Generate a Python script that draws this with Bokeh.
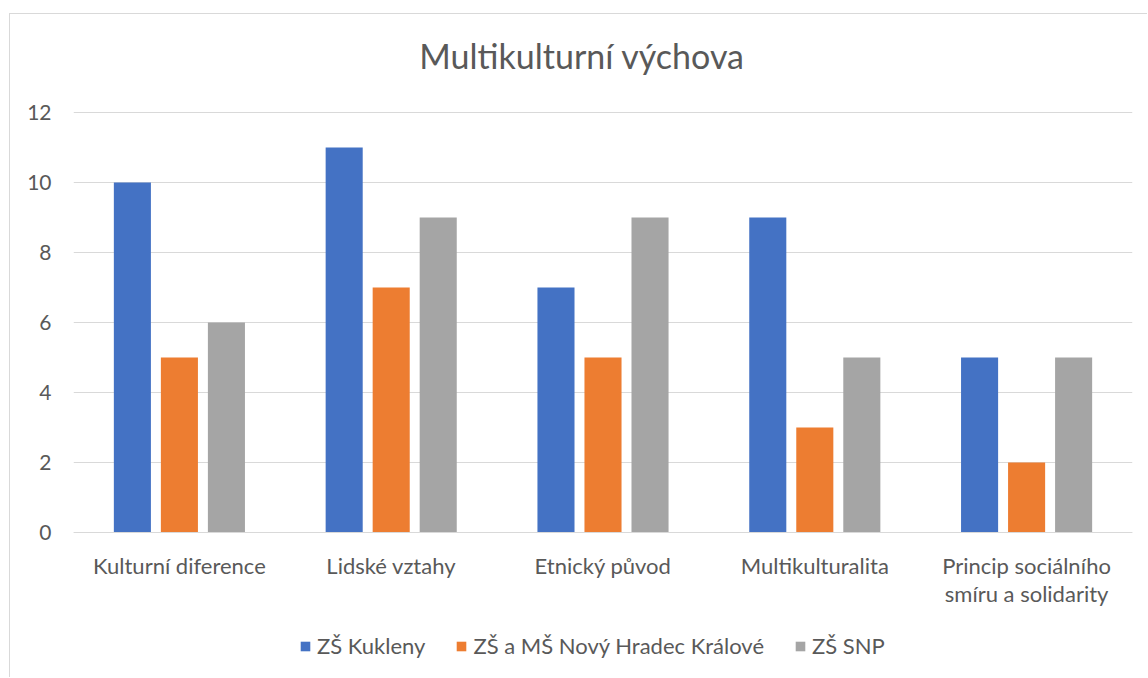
from bokeh.plotting import figure
from bokeh.models import FactorRange, Range1d, Legend, LegendItem, FixedTicker, Label
from bokeh.transform import dodge
from bokeh.embed import file_html
from bokeh.resources import INLINE

title_text = "Multikulturní výchova"
categories = ["Kulturní diference", "Lidské vztahy", "Etnický původ", "Multikulturalita",
              "Princip sociálního\nsmíru a solidarity"]
series_names = ["ZŠ Kukleny", "ZŠ a MŠ Nový Hradec Králové", "ZŠ SNP"]
kukleny = [10, 11, 7, 9, 5]
novy_hradec = [5, 7, 5, 3, 2]
snp = [6, 9, 9, 5, 5]
y_ticks = [0, 2, 4, 6, 8, 10, 12]

colors = ["#4472C4", "#ED7D31", "#A5A5A5"]
FONT = "Lato"
TXT = "#595959"

# the frame spans the whole chart: room above 12 holds the title,
# room below zero holds the category labels and the legend
p = figure(x_range=FactorRange(factors=categories, range_padding=0), y_range=Range1d(-4, 14.8),
           width=1138, height=664, output_backend="svg", toolbar_location=None,
           min_border_left=63, min_border_right=16, min_border_top=0, min_border_bottom=6,
           styles={"border-left": "1px solid #d9d9d9", "border-top": "1px solid #d9d9d9",
                   "margin-left": "9px", "margin-top": "13px"})

data = dict(cat=categories, a=kukleny, b=novy_hradec, c=snp)
renderers = []
for key, off, col in zip(["a", "b", "c"], [-0.222, 0.0, 0.222], colors):
    r = p.vbar(x=dodge("cat", off, range=p.x_range), top=key, width=0.175, source=data,
               fill_color=col, line_color=None)
    renderers.append(r)

p.add_layout(Label(x=2.401, y=13.63, text=title_text, text_align="center", text_baseline="middle",
                   text_font=FONT, text_font_size="34px", text_color=TXT))

p.xgrid.grid_line_color = None
p.yaxis.ticker = FixedTicker(ticks=y_ticks)
p.ygrid.ticker = FixedTicker(ticks=y_ticks)
p.ygrid.grid_line_color = "#D9D9D9"
p.ygrid.grid_line_width = 1
p.outline_line_color = None

for ax in (p.xaxis[0], p.yaxis[0]):
    ax.major_tick_line_color = None
    ax.minor_tick_line_color = None
    ax.major_label_text_font = FONT
    ax.major_label_text_color = TXT
p.yaxis.major_label_text_font_size = "21px"
p.xaxis.major_label_text_font_size = "22px"
p.xaxis.major_label_text_line_height = 1.05
p.yaxis.axis_line_color = None
p.yaxis.major_label_standoff = 16
p.xaxis.axis_line_color = "#D9D9D9"
p.xaxis.major_label_standoff = 13
p.xaxis.fixed_location = 0

legend = Legend(items=[LegendItem(label=n, renderers=[r]) for n, r in zip(series_names, renderers)],
                orientation="horizontal", location=(226, 13),
                border_line_color=None, background_fill_alpha=0,
                label_text_font=FONT, label_text_font_size="22px", label_text_color=TXT,
                glyph_width=12, glyph_height=12, label_standoff=6, spacing=30,
                padding=0, margin=0)
p.add_layout(legend)

open("out.html", "w").write(file_html(p, INLINE))
